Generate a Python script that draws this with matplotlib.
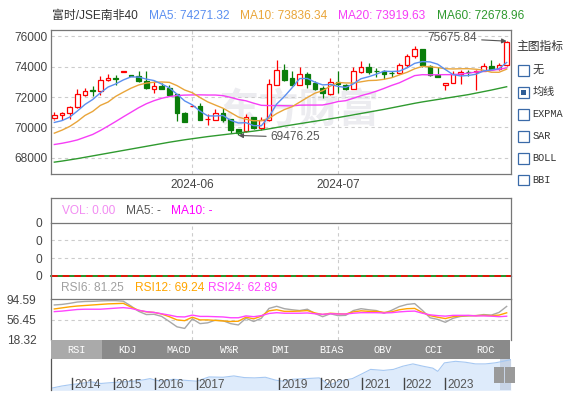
import numpy as np
import matplotlib
matplotlib.use("Agg")
import matplotlib.pyplot as plt
from matplotlib.patches import Rectangle

plt.rcParams['font.family'] = ['Liberation Sans', 'Noto Sans CJK SC']

# daily candles, 60 sessions
opens = [70590, 70790, 70920, 71320, 72150, 72440, 72370, 73100, 73250, 73670,
         73430, 73410, 73080, 72550, 72750, 72590, 72200, 70950, 71410, 71430,
         70550, 70510, 70950, 70570, 69890, 69740, 70660, 69960, 70460, 72810,
         73760, 73250, 72810, 73520, 72920, 72590, 72220, 72970, 72770, 72550,
         73650, 73980, 73710, 73690, 73600, 73580, 74090, 74680, 75190, 74020,
         73470, 72810, 72900, 73540, 73640, 73630, 73740, 74020, 73870, 74090]
highs = [71050, 71010, 71380, 72530, 72590, 72750, 73360, 73520, 73430, 73710,
         73450, 73690, 73690, 73030, 72920, 72770, 72220, 71050, 71450, 71600,
         70880, 71230, 71270, 70580, 69900, 70880, 70680, 70720, 73210, 74420,
         74180, 73690, 73960, 73650, 73030, 72700, 73250, 73690, 72860, 73960,
         74350, 74240, 73910, 73800, 73690, 74240, 74840, 75340, 75190, 74090,
         73960, 72920, 73690, 73800, 73800, 73800, 74240, 74420, 74240, 75675.84]
lows = [70500, 70500, 70570, 71250, 72040, 72040, 72110, 73060, 72770, 73670,
        73380, 73000, 72560, 72260, 72550, 72040, 70440, 70350, 71400, 70500,
        70180, 70500, 70330, 69630, 69476.25, 69730, 69900, 69850, 70450, 72800,
        73080, 72700, 72800, 72590, 72440, 71930, 72150, 72260, 72460, 72540,
        73580, 73540, 73300, 73210, 73300, 73520, 74000, 74570, 74000, 73410,
        73300, 72440, 72900, 72860, 73360, 72480, 73690, 73800, 73800, 74020]
closes = [70790, 70920, 71320, 72180, 72370, 72400, 73100, 73230, 73210, 73690,
          73410, 73030, 72570, 72730, 72550, 72150, 70950, 70350, 71430, 70510,
          70570, 70920, 70510, 69850, 69630, 70660, 69960, 70460, 72860, 73760,
          73140, 72810, 73520, 72880, 72530, 72260, 72970, 72860, 72550, 73690,
          73960, 73630, 73690, 73540, 73580, 74090, 74680, 75190, 74130, 73470,
          73340, 72920, 73540, 73670, 73630, 73740, 74020, 73870, 74090, 75640]

ma5 = [70330, 70450, 70680, 71080, 71516, 71838, 72274, 72656, 72862, 73126,
       73328, 73314, 73182, 73086, 72858, 72606, 72190, 71746, 71486, 71078,
       70762, 70756, 70788, 70472, 70296, 70314, 70122, 70112, 70714, 71540,
       72036, 72606, 73218, 73222, 72976, 72800, 72832, 72700, 72634, 72866,
       73206, 73338, 73504, 73702, 73680, 73706, 73916, 74216, 74334, 74312,
       74162, 73810, 73480, 73388, 73420, 73500, 73720, 73786, 73870, 74271.32]
ma10 = [69626, 69824, 70066, 70395, 70791, 71055, 71450, 71670, 72044, 72321,
        72583, 72794, 72919, 72974, 72992, 72967, 72752, 72464, 72286, 71968,
        71684, 71473, 71267, 70979, 70687, 70538, 70439, 70450, 70593, 70918,
        71175, 71364, 71665, 71968, 72258, 72418, 72719, 72959, 72928, 72921,
        73003, 73085, 73102, 73168, 73273, 73456, 73627, 73860, 74018, 73996,
        73934, 73863, 73848, 73861, 73866, 73831, 73765, 73633, 73629, 73836.34]
ma20 = [68880, 68960, 69060, 69180, 69360, 69540, 69800, 70090, 70390, 70700,
        71000, 71300, 71560, 71760, 71920, 72030, 72100, 72130, 72140, 72145,
        72134, 72134, 72093, 71977, 71840, 71753, 71596, 71457, 71440, 71443,
        71430, 71419, 71466, 71474, 71473, 71478, 71579, 71705, 71761, 71920,
        72089, 72225, 72384, 72568, 72766, 72937, 73173, 73410, 73473, 73459,
        73469, 73474, 73475, 73515, 73570, 73644, 73696, 73747, 73824, 73919.63]
ma60 = [67720, 67790, 67870, 67950, 68040, 68130, 68220, 68310, 68400, 68490,
        68580, 68670, 68760, 68850, 68940, 69030, 69110, 69190, 69260, 69330,
        69400, 69460, 69520, 69580, 69640, 69700, 69760, 69830, 69910, 70000,
        70090, 70170, 70250, 70330, 70410, 70490, 70570, 70650, 70740, 70830,
        70920, 71010, 71100, 71190, 71290, 71390, 71490, 71590, 71680, 71760,
        71840, 71920, 72000, 72080, 72160, 72260, 72360, 72460, 72570, 72678.96]

rsi6 = [84, 85, 87, 89.5, 90.5, 90.8, 91.5, 92, 92, 91,
        82, 72, 66, 66.5, 62.5, 53, 43, 40, 58, 49,
        50.5, 55.5, 54.5, 49, 46.5, 59, 53, 59, 77.5, 81.5,
        77, 75, 73.5, 76, 68, 62, 67.5, 64, 64.5, 73.5,
        77, 75, 73.5, 68.5, 74, 81, 85, 86.5, 74, 60,
        57, 51.5, 59, 62.5, 63.5, 64, 66, 65, 70, 81.25]
rsi12 = [76.5, 78.5, 80.5, 82, 83, 84, 85, 86, 86.5, 87,
         80, 74, 71, 70, 67, 62, 56, 54.5, 61, 56,
         56, 55, 54, 53, 53.5, 61, 58, 63, 73, 75,
         72, 72, 72.5, 73.5, 69, 66, 68.5, 67.5, 67, 71,
         73, 72, 72, 70, 71, 75, 77, 77.5, 70, 64,
         61, 58.5, 62, 63.5, 64, 64, 64.5, 64, 65, 69.24]
rsi24 = [71.5, 72.5, 74, 75.5, 76, 76, 76, 77, 78, 79,
         77.5, 74, 71.5, 70, 67.5, 65, 62, 61.5, 65, 62.5,
         62.5, 62, 61.5, 60, 60, 63.5, 62, 64, 68, 69.5,
         68.5, 68.5, 68.5, 69, 67.5, 66.5, 67.5, 67, 67, 68.5,
         69.5, 69.5, 69.5, 69, 69.5, 71, 72, 72.5, 68.5, 65.5,
         64, 63, 64.5, 64.5, 64.5, 63.5, 63.5, 63, 62, 62.89]

month_idx = [18, 37]
month_labels = ['2024-06', '2024-07']
price_ticks = [68000, 70000, 72000, 74000, 76000]
rsi_ticks = [18.32, 56.45, 94.59]

# overview strip (long history)
mini_years = [2013.48, 2013.74, 2014.0, 2014.21, 2014.45, 2014.69, 2015.0, 2015.24,
              2015.48, 2015.72, 2015.88, 2016.0, 2016.2, 2016.44, 2016.68, 2017.0,
              2017.3, 2017.64, 2017.9, 2018.15, 2018.4, 2018.66, 2018.91, 2019.08,
              2019.32, 2019.64, 2019.96, 2020.2, 2020.44, 2020.76, 2021.0, 2021.2,
              2021.51, 2021.75, 2021.98, 2022.22, 2022.46, 2022.7, 2022.82, 2022.98,
              2023.25, 2023.49, 2023.73, 2023.97, 2024.2, 2024.36, 2024.58]
mini_values = [39000, 41900, 44000, 45200, 47300, 45200, 46500, 47300,
               48100, 49800, 51400, 49400, 48100, 50600, 49400, 48100,
               53500, 53100, 54800, 52700, 52300, 53100, 49400, 48100,
               50600, 51400, 52300, 43100, 48100, 51400, 57700, 63100,
               61800, 63100, 67200, 70100, 67200, 64700, 60600, 71400,
               73400, 72200, 70100, 70100, 71400, 73000, 75500]
mini_year_labels = [2014, 2015, 2016, 2017, 2019, 2020, 2021, 2022, 2023]

tab_names = ['RSI', 'KDJ', 'MACD', 'W%R', 'DMI', 'BIAS', 'OBV', 'CCI', 'ROC']
overlay_names = ['无', '均线', 'EXPMA', 'SAR', 'BOLL', 'BBI']
overlay_checked = 1

RED, GREEN = '#ff0000', '#0a7d0a'
C_MA5, C_MA10, C_MA20, C_MA60 = '#5b8ff0', '#e9a53a', '#f63ef6', '#2f9a2f'
SPINE = '#777777'
GRID = '#cccccc'
TXT = '#444444'

W, H = 565.0, 398.0
fig = plt.figure(figsize=(W / 100, H / 100), dpi=100)


def axes_px(left, top, right, bottom):
    return fig.add_axes([left / W, 1 - bottom / H, (right - left) / W, (bottom - top) / H])


def ftext(x, y, s, **kw):
    kw.setdefault('va', 'center')
    kw.setdefault('fontsize', 8.6)
    fig.text(x / W, 1 - y / H, s, **kw)


def style_spines(ax, sides):
    for name, sp in ax.spines.items():
        sp.set_visible(name in sides)
        sp.set_color(SPINE)
        sp.set_linewidth(0.9)


n = len(closes)
xs = np.arange(n)
dash = (0, (3, 3))

# ---------- main price panel ----------
ax = axes_px(50.5, 29.7, 510.5, 174)
ax.set_xlim(-0.5, n - 0.5)
ax.set_ylim(66940, 76430)
style_spines(ax, ['top', 'bottom', 'left', 'right'])
ax.set_yticks(price_ticks)
ax.set_yticklabels([str(t) for t in price_ticks])
ax.set_xticks(month_idx)
ax.set_xticklabels(month_labels)
ax.tick_params(axis='y', length=0, pad=2.5, labelsize=8.6, colors=TXT)
ax.tick_params(axis='x', length=0, pad=3.6, labelsize=8.6, colors=TXT)
ax.grid(True, linestyle=dash, color=GRID, linewidth=0.8)
ax.set_axisbelow(True)

ax.text(0.54, 0.44, '东方财富', transform=ax.transAxes, ha='center', va='center',
        fontsize=29, fontweight='bold', color='#ececf0', zorder=0.5)

for i in range(n):
    o, h, l, c = opens[i], highs[i], lows[i], closes[i]
    up = c >= o
    col = RED if up else GREEN
    top, bot = max(o, c), min(o, c)
    ax.vlines(i, top, h, color=col, linewidth=0.9, zorder=2)
    ax.vlines(i, l, bot, color=col, linewidth=0.9, zorder=2)
    ax.add_patch(Rectangle((i - 0.32, bot), 0.64, max(top - bot, 18),
                           facecolor='white' if up else col, edgecolor=col,
                           linewidth=0.9, zorder=2.1))

ax.plot(xs, ma60, color=C_MA60, lw=1.0, zorder=3)
ax.plot(xs, ma20, color=C_MA20, lw=1.0, zorder=3)
ax.plot(xs, ma10, color=C_MA10, lw=1.0, zorder=3)
ax.plot(xs, ma5, color=C_MA5, lw=1.0, zorder=3)

hi_i = int(np.argmax(highs))
lo_i = int(np.argmin(lows))
arrow = dict(arrowstyle='-|>', color='#555555', lw=0.8, mutation_scale=7, shrinkA=1, shrinkB=0)
ax.annotate(f'{highs[hi_i]:.2f}', xy=(hi_i, highs[hi_i]), xytext=(-21, 2),
            textcoords='offset points', ha='right', va='center', fontsize=8.6,
            color='#555555', arrowprops=arrow, zorder=4)
ax.annotate(f'{lows[lo_i]:.2f}', xy=(lo_i, lows[lo_i]), xytext=(23, -1.3),
            textcoords='offset points', ha='left', va='center', fontsize=8.6,
            color='#555555', arrowprops=arrow, zorder=4)

# header line
ftext(52, 16, '富时/JSE南非40', color='#333333')
ftext(149, 16, f'MA5: {ma5[-1]:.2f}', color=C_MA5)
ftext(240, 16, f'MA10: {ma10[-1]:.2f}', color=C_MA10)
ftext(338, 16, f'MA20: {ma20[-1]:.2f}', color=C_MA20)
ftext(437, 16, f'MA60: {ma60[-1]:.2f}', color=C_MA60)

# overlay selector on the right
ftext(516, 47, '主图指标', color='#333333', fontsize=8.5)
for k, name in enumerate(overlay_names):
    cy = 70 + k * 22
    fig.patches.append(Rectangle((518 / W, 1 - (cy + 5.5) / H), 11 / W, 11 / H,
                                 transform=fig.transFigure, facecolor='white',
                                 edgecolor='#3a6aa8', linewidth=0.9))
    if k == overlay_checked:
        fig.patches.append(Rectangle((521 / W, 1 - (cy + 2.5) / H), 5 / W, 5 / H,
                                     transform=fig.transFigure, facecolor='#2f5d96',
                                     edgecolor='none'))
    fam = ['Liberation Mono'] if name.isascii() else ['Noto Sans CJK SC']
    ftext(532.5, cy, name, color='#333333', family=fam,
          fontsize=7.4 if name.isascii() else 8)

# ---------- volume panel ----------
ax_vh = axes_px(50.5, 198.4, 510.5, 222.7)
style_spines(ax_vh, ['top', 'left', 'right'])
ax_vh.set_xticks([])
ax_vh.set_yticks([])
ftext(61.5, 210.5, 'VOL: 0.00', color='#f28cf2')
ftext(125.5, 210.5, 'MA5: -', color='#555555')
ftext(171, 210.5, 'MA10: -', color='#ff00ff')

ax_v = axes_px(50.5, 222.7, 510.5, 276)
style_spines(ax_v, ['top', 'left', 'right'])
ax_v.set_xlim(-0.5, n - 0.5)
ax_v.set_ylim(0, 3)
ax_v.set_yticks([0, 1, 2, 3])
ax_v.set_yticklabels(['0', '0', '0', '0'])
ax_v.set_xticks([])
ax_v.tick_params(length=0, pad=6, labelsize=8.6, colors=TXT)
for yv in [1, 2]:
    ax_v.axhline(yv, color=GRID, lw=0.8, linestyle=dash)
for mi in month_idx:
    ax_v.axvline(mi, color=GRID, lw=0.8, linestyle=dash)
ax_v.axhline(0, color='#008000', lw=1.2, clip_on=False)
ax_v.axhline(0, color='#ff0000', lw=1.2, linestyle=(0, (4, 3)), clip_on=False)

# ---------- RSI panel ----------
ax_rh = axes_px(50.5, 276, 510.5, 299.3)
style_spines(ax_rh, ['left', 'right'])
ax_rh.set_xticks([])
ax_rh.set_yticks([])
ax_rh.patch.set_alpha(0)
ftext(61, 288, f'RSI6: {rsi6[-1]:.2f}', color='#a0a0a0')
ftext(135, 288, f'RSI12: {rsi12[-1]:.2f}', color='#ffa500')
ftext(208.5, 288, f'RSI24: {rsi24[-1]:.2f}', color='#ff44ff')

ax_r = axes_px(50.5, 299.3, 510.5, 340)
style_spines(ax_r, ['top', 'left', 'right'])
ax_r.set_xlim(-0.5, n - 0.5)
ax_r.set_ylim(rsi_ticks[0], rsi_ticks[-1])
ax_r.set_yticks(rsi_ticks)
ax_r.set_yticklabels([f'{t:.2f}' for t in rsi_ticks])
ax_r.set_xticks([])
ax_r.tick_params(length=0, pad=10, labelsize=8.6, colors=TXT)
ax_r.axhline(rsi_ticks[1], color=GRID, lw=0.8, linestyle=dash)
for mi in month_idx:
    ax_r.axvline(mi, color=GRID, lw=0.8, linestyle=dash)
ax_r.plot(xs, rsi6, color='#a8a8a8', lw=1.0)
ax_r.plot(xs, rsi12, color='#ffa500', lw=1.0)
ax_r.plot(xs, rsi24, color='#ff44ff', lw=1.0)

# ---------- indicator tabs ----------
ax_t = axes_px(50.5, 340, 510.5, 359)
ax_t.set_xlim(0, len(tab_names))
ax_t.set_ylim(0, 1)
ax_t.axis('off')
for k, name in enumerate(tab_names):
    ax_t.add_patch(Rectangle((k, 0), 1, 1, facecolor='#aaaaaa' if k == 0 else '#8a8a8a',
                             edgecolor='none'))
    ax_t.text(k + 0.5, 0.48, name, ha='center', va='center', color='white',
              family=['Liberation Mono'], fontsize=7.4)

# ---------- overview strip ----------
ax_m = axes_px(50.7, 359, 510.7, 390.3)
style_spines(ax_m, ['left'])
ax_m.spines['left'].set_color('#555555')
ax_m.set_xlim(mini_years[0], mini_years[-1])
ax_m.set_ylim(36510, 76330)
ax_m.set_xticks([])
ax_m.set_yticks([])
ax_m.fill_between(mini_years, mini_values, 36510, color='#deebfb', lw=0)
ax_m.plot(mini_years, mini_values, color='#a6c8f2', lw=0.8)
ax_m.axvspan(mini_years[-1] - 0.265, mini_years[-1], color='#c8d4e6', lw=0)
for yr in mini_year_labels:
    ax_m.axvline(yr, ymin=0, ymax=0.38, color='#444444', lw=1.0)
    ax_m.text(yr + 0.05, 0.18, str(yr), transform=ax_m.get_xaxis_transform(),
              ha='left', va='center', fontsize=8.6, color='#555555')

for l, r in [(494, 504), (505.3, 514.7)]:
    fig.patches.append(Rectangle((l / W, 1 - 382.7 / H), (r - l) / W, 16 / H,
                                 transform=fig.transFigure, facecolor='#9a9a9a',
                                 edgecolor='none'))

fig.savefig('out.png', dpi=100)
